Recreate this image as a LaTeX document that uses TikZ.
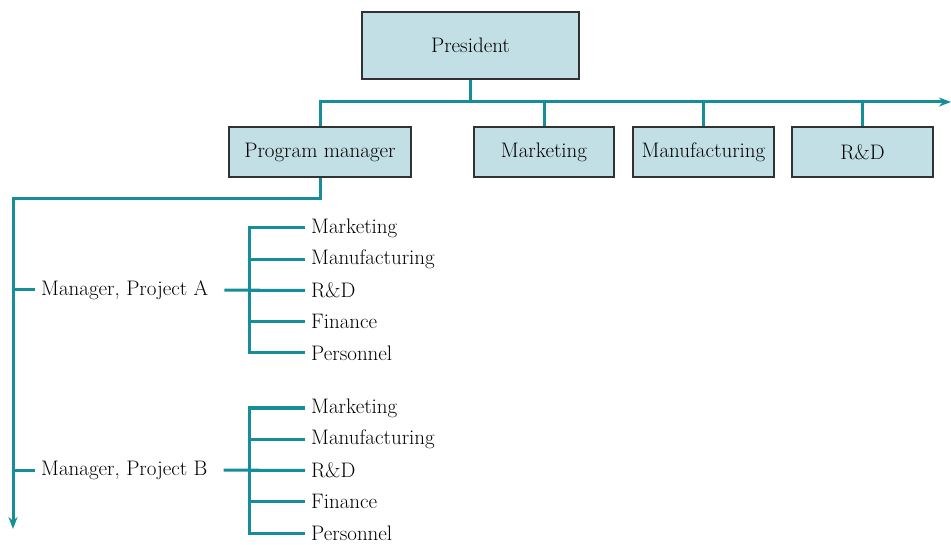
\documentclass[tikz,border=0pt]{standalone}
\usepackage{tikz}
\usetikzlibrary{arrows.meta, positioning, calc}
\definecolor{org_fill}{RGB}{193, 223, 228}
\definecolor{org_teal}{RGB}{22, 142, 153}
\definecolor{org_border}{RGB}{50, 50, 50}
\tikzset {
  unitbox/.style = {draw=org_border, line width=1.5pt, fill=org_fill, rectangle, minimum height=50pt, text centered, font=\fontsize{21}{24}\selectfont},
  conn/.style = {line width=3pt, color=org_teal},
  tip/.style = {-{Stealth[length=12pt, width=9pt]}},
  mgr/.style = {anchor=west, inner xsep=6pt, inner ysep=0pt, font=\fontsize{21}{24}\selectfont},
  dept/.style = {anchor=west, inner xsep=6pt, inner ysep=0pt, font=\fontsize{21}{24}\selectfont}
}
\begin{document}
\begin{tikzpicture}[x=1pt, y=-1pt]
    \useasboundingbox (0,0) rectangle (951,545);
    % top of the chart
    \node[unitbox, minimum width=217pt, minimum height=67pt] (pres) at (470.5,45.5) {President};
    \node[unitbox, minimum width=182pt] (pm) at (320,152) {Program manager};
    \node[unitbox, minimum width=140pt] (mkt) at (544,152) {Marketing};
    \node[unitbox, minimum width=141pt] (mfg) at (703.5,152) {Manufacturing};
    \node[unitbox, minimum width=141pt] (rnd) at (862.5,152) {R\&D};

    \coordinate (busL) at (320,102);
    \coordinate (busR) at (951,102);
    \draw[conn, tip] (pm.north) -- (busL) -- (busR);
    \draw[conn] (pres.south) -- (pres.south |- busL);
    \draw[conn] (mkt.north) -- (mkt.north |- busL);
    \draw[conn] (mfg.north) -- (mfg.north |- busL);
    \draw[conn] (rnd.north) -- (rnd.north |- busL);

    % program line
    \coordinate (corner) at (13,199);
    \coordinate (bottom) at (13,529);
    \draw[conn, tip] (pm.south) |- (corner) -- (bottom);

    % projects
    \node[mgr] (mgrA) at (35,290) {Manager, Project A};
    \node[mgr] (mgrB) at (35,470) {Manager, Project B};
    \draw[conn] (mgrA.west -| corner) -- (mgrA.west);
    \draw[conn] (mgrB.west -| corner) -- (mgrB.west);

    \foreach \p/\y in {A/228, B/408} {
      \foreach \d [count=\i] in {Marketing, Manufacturing, R\&D, Finance, Personnel} {
        \node[dept] (\p\i) at (305,\y+31.25*\i-31.25) {\d};
      }
      \draw[conn] (\p1.west) -- (249,0 |- \p1.west) -- (249,0 |- \p5.west) -- (\p5.west);
      \foreach \i in {2,3,4} {
        \draw[conn] (249,0 |- \p\i.west) -- (\p\i.west);
      }
      \draw[conn, shorten <=10pt] (mgr\p.east) -- (\p3.west);
    }
\end{tikzpicture}
\end{document}
